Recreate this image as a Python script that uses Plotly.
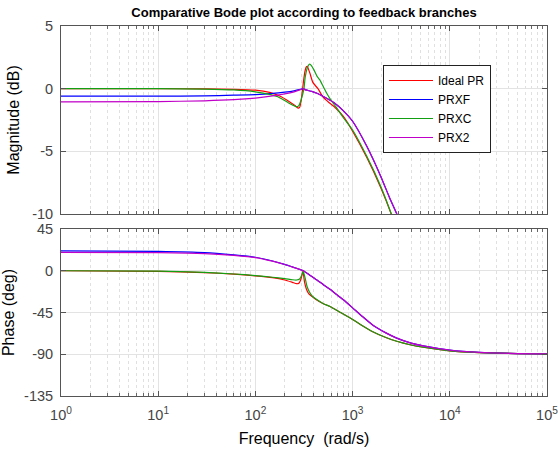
import plotly.graph_objects as go

# ---------------- data ----------------
series_names = ["Ideal PR", "PRXF", "PRXC", "PRX2"]
series_colors = ["#ff0000", "#0000ff", "#12a012", "#c000c8"]

# Magnitude (dB)
mag_f_ideal = [1, 10, 30, 60, 100, 140, 180, 220, 255, 275, 285, 295, 305, 315, 325, 335, 342, 350, 365, 390, 440, 500, 570, 640, 800, 1000, 1400, 1950, 2500, 2900]
mag_ideal = [0, 0, -0.02, -0.05, -0.12, -0.3, -0.6, -1.0, -1.35, -1.55, -1.5, -1.0, -0.1, 0.8, 1.45, 1.75, 1.78, 1.6, 1.2, 0.5, 0.0, -0.7, -1.1, -1.4, -2.2, -3.4, -5.5, -7.9, -10.0, -11.5]

mag_f_prxf = [1, 10, 30, 60, 100, 150, 200, 250, 290, 310, 330, 380, 430, 500, 580, 640, 800, 1000, 1400, 1950, 2400, 2850, 3300]
mag_prxf = [-0.6, -0.6, -0.57, -0.52, -0.47, -0.38, -0.28, -0.17, -0.06, 0.0, -0.1, -0.22, -0.37, -0.62, -0.9, -1.1, -1.75, -2.6, -4.6, -7.0, -8.7, -10.0, -11.5]

mag_f_prxc = [1, 10, 30, 60, 100, 140, 170, 210, 240, 265, 280, 295, 316, 325, 340, 355, 365, 380, 400, 430, 460, 500, 540, 585, 680, 800, 1000, 1400, 1950, 2500, 2900]
mag_prxc = [0, 0, -0.03, -0.1, -0.25, -0.45, -0.65, -1.05, -1.3, -1.45, -1.35, -0.9, 0.0, 0.9, 1.6, 1.92, 1.95, 1.8, 1.5, 1.0, 0.7, 0.15, -0.35, -0.8, -1.5, -2.3, -3.3, -5.4, -7.8, -10.0, -11.5]

mag_f_prx2 = [1, 10, 30, 60, 100, 150, 200, 250, 290, 310, 330, 380, 430, 500, 580, 640, 800, 1000, 1400, 1950, 2400, 2850, 3300]
mag_prx2 = [-1.05, -1.03, -0.97, -0.88, -0.75, -0.58, -0.42, -0.25, -0.08, 0.0, -0.1, -0.22, -0.37, -0.62, -0.9, -1.1, -1.75, -2.6, -4.6, -7.0, -8.7, -10.0, -11.5]

# Phase (deg)
ph_f_ideal = [1, 10, 30, 60, 100, 150, 200, 240, 265, 280, 292, 302, 310, 312, 320, 335, 355, 380, 420, 500, 585, 750, 1000, 1250, 1633, 2200, 2844, 4000, 5330, 10000, 20000, 50000, 100000]
ph_ideal = [0, -0.6, -2, -3.6, -5.5, -7.5, -10, -12.5, -14, -13.5, -10, -4, 0, -3, -12, -20, -25, -27.5, -31, -35.5, -38.5, -45, -52.5, -59, -66, -72, -76, -80, -82.5, -86.3, -88.2, -89.3, -89.7]

ph_f_prxf = [1, 10, 30, 60, 100, 150, 200, 250, 290, 310, 360, 430, 500, 585, 700, 850, 1000, 1250, 1633, 2200, 2844, 4000, 5330, 10000, 20000, 50000, 100000]
ph_prxf = [21.5, 20.8, 19.5, 17, 14.5, 10.5, 6.8, 3.5, 1.2, 0, -4.5, -10, -15, -20, -26.5, -33.5, -40, -49, -59, -67, -72.6, -78, -81, -85.5, -88, -89.3, -89.7]

ph_f_prxc = [1, 10, 30, 60, 100, 150, 200, 240, 265, 285, 300, 312, 314, 325, 340, 360, 385, 420, 500, 585, 750, 1000, 1250, 1633, 2200, 2844, 4000, 5330, 10000, 20000, 50000, 100000]
ph_prxc = [0, -0.5, -1.8, -3.5, -5.2, -7, -8.5, -9.7, -10, -9, -5, 0, -2, -8, -17, -23, -27.5, -30.5, -35.5, -38.5, -45, -52.5, -59, -66, -72, -76, -80, -82.5, -86.3, -88.2, -89.3, -89.7]

ph_f_prx2 = [1, 10, 30, 60, 100, 150, 200, 250, 290, 310, 360, 430, 500, 585, 700, 850, 1000, 1250, 1633, 2200, 2844, 4000, 5330, 10000, 20000, 50000, 100000]
ph_prx2 = [19.8, 19.5, 18.5, 16.5, 14.2, 10.3, 6.7, 3.4, 1.2, 0, -4.5, -10, -15, -20, -26.5, -33.5, -40, -49, -59, -67, -72.6, -78, -81, -85.5, -88, -89.3, -89.7]

mag_series = [(mag_f_ideal, mag_ideal), (mag_f_prxf, mag_prxf), (mag_f_prxc, mag_prxc), (mag_f_prx2, mag_prx2)]
ph_series = [(ph_f_ideal, ph_ideal), (ph_f_prxf, ph_prxf), (ph_f_prxc, ph_prxc), (ph_f_prx2, ph_prx2)]

x_tickvals = [1, 10, 100, 1000, 10000, 100000]
x_ticktext = ["10<sup>0</sup>", "10<sup>1</sup>", "10<sup>2</sup>", "10<sup>3</sup>", "10<sup>4</sup>", "10<sup>5</sup>"]
mag_ticks = [5, 0, -5, -10]
ph_ticks = [45, 0, -45, -90, -135]

# ---------------- figure ----------------
FONT = "Liberation Sans, Arial, Helvetica, sans-serif"
fig = go.Figure()

for i, name in enumerate(series_names):
    f, v = mag_series[i]
    fig.add_trace(go.Scatter(x=f, y=v, mode="lines", name=name,
                             line=dict(color=series_colors[i], width=1.2, shape="spline", smoothing=0.6),
                             xaxis="x", yaxis="y", showlegend=True))
for i, name in enumerate(series_names):
    f, v = ph_series[i]
    fig.add_trace(go.Scatter(x=f, y=v, mode="lines", name=name,
                             line=dict(color=series_colors[i], width=1.2, shape="spline", smoothing=0.6),
                             xaxis="x2", yaxis="y2", showlegend=False))

axis_common = dict(
    showline=True, linecolor="#555555", linewidth=1, mirror="ticks",
    ticks="inside", ticklen=5, tickcolor="#555555",
    showgrid=True, gridcolor="#e3e3e3", gridwidth=1,
    zeroline=False, automargin=False, ticklabeloverflow="allow",
    tickfont=dict(family=FONT, size=14.5, color="#444444"),
)

xaxis_common = dict(axis_common)
xaxis_common.update(
    type="log", range=[0, 5], tickvals=x_tickvals, ticktext=x_ticktext,
    minor=dict(dtick="D1", ticks="inside", ticklen=3, tickcolor="#666666",
               showgrid=True, gridcolor="#e0e0e0", griddash="dot", gridwidth=1),
)

fig.update_layout(
    width=558, height=449,
    margin=dict(l=61, r=11, t=26, b=53),
    paper_bgcolor="white", plot_bgcolor="white",
    font=dict(family=FONT, color="#222222"),
    title=dict(text="<b>Comparative Bode plot according to feedback branches</b>",
               x=(61 + 547) / 2 / 558, xanchor="center", y=1 - 12 / 449, yanchor="middle",
               font=dict(family=FONT, size=13, color="#000000")),
    xaxis=dict(xaxis_common, domain=[0, 1], anchor="y", showticklabels=False, matches="x2"),
    yaxis=dict(axis_common, domain=[0.4919, 1], anchor="x", range=[-10, 5],
               tickvals=mag_ticks, ticktext=[str(t) for t in mag_ticks], ticklabelstandoff=4,
               title=dict(text="Magnitude (dB)", font=dict(family=FONT, size=16, color="#000000"), standoff=8)),
    xaxis2=dict(xaxis_common, domain=[0, 1], anchor="y2", ticklabelstandoff=6,
                title=dict(text="Frequency  (rad/s)", font=dict(family=FONT, size=16, color="#000000"), standoff=10)),
    yaxis2=dict(axis_common, domain=[0, 0.4514], anchor="x2", range=[-135, 45],
                tickvals=ph_ticks, ticktext=[str(t) for t in ph_ticks], ticklabelstandoff=4,
                title=dict(text="Phase (deg)", font=dict(family=FONT, size=16, color="#000000"), standoff=8)),
    legend=dict(x=(383 - 61) / 486, y=(396 - 65) / 370, xanchor="left", yanchor="top",
                bgcolor="white", bordercolor="#222222", borderwidth=1,
                font=dict(family=FONT, size=12, color="#000000"),
                tracegroupgap=0, itemwidth=44),
    showlegend=True,
)

fig.write_html("out.html")
